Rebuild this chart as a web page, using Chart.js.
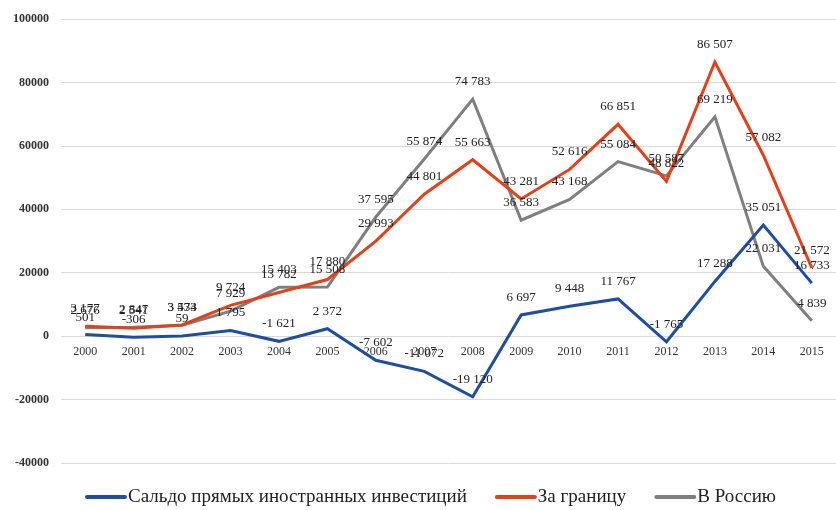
<!DOCTYPE html>
<html><head><meta charset="utf-8">
<script src="https://cdn.jsdelivr.net/npm/chart.js@4/dist/chart.umd.min.js"></script>
<style>html,body{margin:0;padding:0;background:#fff}#wrap{width:836px;height:510px}</style>
</head><body><div id="wrap"><canvas id="c" width="836" height="510"></canvas></div>
<script>
const years = ['2000','2001','2002','2003','2004','2005','2006','2007','2008','2009','2010','2011','2012','2013','2014','2015'];
const saldo = [501,-306,59,1795,-1621,2372,-7602,-11072,-19120,6697,9448,11767,-1765,17288,35051,16733];
const abroad = [3177,2541,3533,9724,13782,17880,29993,44801,55663,43281,52616,66851,48822,86507,57082,21572];
const toRussia = [2676,2847,3474,7929,15403,15508,37595,55874,74783,36583,43168,55084,50587,69219,22031,4839];
const yTicks = [-40000,-20000,0,20000,40000,60000,80000,100000];

const SERIF = '"Liberation Serif", "Times New Roman", serif';
const fmt = v => { const s = Math.abs(v).toString().replace(/\B(?=(\d{3})+(?!\d))/g,' '); return (v<0?'-':'')+s; };

const labelPlugin = {
  id:'vals',
  afterDatasetsDraw(chart){
    const ctx = chart.ctx;
    ctx.save();
    ctx.font = '13px ' + SERIF;
    ctx.fillStyle = '#222';
    ctx.textAlign = 'center';
    ctx.textBaseline = 'bottom';
    chart.data.datasets.forEach((ds,i)=>{
      const meta = chart.getDatasetMeta(i);
      meta.data.forEach((pt,j)=>{
        ctx.fillText(fmt(ds.data[j]), pt.x, pt.y - 11);
      });
    });
    ctx.restore();
  }
};

const legendPlugin = {
  id:'customLegend',
  afterDraw(chart){
    const ctx = chart.ctx;
    ctx.save();
    ctx.font = '19px ' + SERIF;
    const lineW = 40, gap = 2, itemGap = 29;
    const items = chart.data.datasets.map(ds=>({text:ds.label,color:ds.borderColor,w:ctx.measureText(ds.label).width}));
    const total = items.reduce((a,it)=>a+lineW+gap+it.w,0) + itemGap*(items.length-1);
    let x = 431 - total/2;
    const y = 497;
    ctx.textBaseline = 'middle';
    ctx.textAlign = 'left';
    items.forEach(it=>{
      ctx.strokeStyle = it.color; ctx.lineWidth = 4; ctx.lineCap='round';
      ctx.beginPath(); ctx.moveTo(x+1,y); ctx.lineTo(x+lineW-1,y); ctx.stroke();
      ctx.fillStyle = '#222';
      ctx.fillText(it.text, x+lineW+gap, y);
      x += lineW+gap+it.w+itemGap;
    });
    ctx.restore();
  }
};

new Chart(document.getElementById('c'),{
  type:'line',
  data:{labels:years,datasets:[
    {label:'Сальдо прямых иностранных инвестиций',data:saldo,borderColor:'#1F4E9E',backgroundColor:'#1F4E9E',borderWidth:3,pointRadius:0,tension:0},
    {label:'За границу',data:abroad,borderColor:'#E0421C',backgroundColor:'#E0421C',borderWidth:3,pointRadius:0,tension:0},
    {label:'В Россию',data:toRussia,borderColor:'#7F7F7F',backgroundColor:'#7F7F7F',borderWidth:3,pointRadius:0,tension:0}
  ]},
  options:{
    responsive:false,animation:false,
    layout:{padding:{top:11,left:1,right:0,bottom:47}},
    plugins:{
      legend:{display:false},
      tooltip:{enabled:false}
    },
    scales:{
      x:{position:{y:0},offset:true,grid:{display:false},border:{display:false},
         ticks:{color:'#333',padding:0,font:{family:SERIF,size:12}}},
      y:{min:-40000,max:100000,afterBuildTicks:(s)=>{s.ticks=yTicks.map(v=>({value:v}));},
         grid:{color:'#d9d9d9',lineWidth:1,drawTicks:false},border:{display:false},
         ticks:{color:'#333',padding:12,callback:v=>String(v),font:{family:SERIF,size:12,weight:'bold'}}}
    }
  },
  plugins:[labelPlugin, legendPlugin]
});
</script></body></html>
